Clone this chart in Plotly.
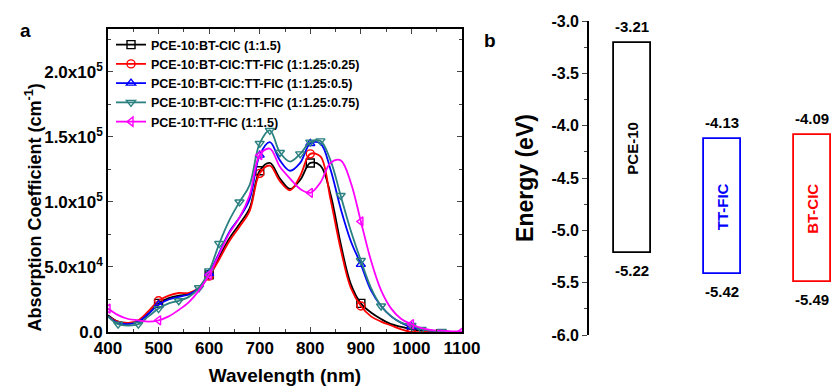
import plotly.graph_objects as go

# ---------------- data ----------------
wavelength = [400, 420, 440, 460, 480, 500, 520, 540, 560, 580, 600, 620, 640, 660, 680, 700,
              720, 740, 760, 780, 800, 820, 840, 860, 880, 900, 920, 940, 960, 980, 1000,
              1020, 1040, 1060, 1080, 1100]

# absorption coefficient, units of 1e5 cm^-1
bt_cic = [0.13, 0.08, 0.07, 0.08, 0.14, 0.22, 0.26, 0.28, 0.29, 0.34, 0.44, 0.58, 0.72, 0.83, 0.95, 1.24,
          1.30, 1.18, 1.10, 1.17, 1.30, 1.28, 1.06, 0.68, 0.37, 0.22, 0.15, 0.10, 0.06, 0.04, 0.02,
          0.01, 0.005, 0.0, 0.0, 0.0]
tern_025 = [0.12, 0.08, 0.07, 0.09, 0.16, 0.24, 0.28, 0.30, 0.30, 0.34, 0.43, 0.56, 0.70, 0.81, 0.93, 1.22,
            1.28, 1.16, 1.09, 1.20, 1.37, 1.35, 1.02, 0.64, 0.34, 0.20, 0.12, 0.08, 0.05, 0.02, 0.0,
            0.0, 0.0, 0.0, 0.0, 0.0]
tern_05 = [0.12, 0.07, 0.06, 0.08, 0.14, 0.21, 0.25, 0.27, 0.29, 0.34, 0.45, 0.61, 0.77, 0.88, 1.02, 1.36,
           1.46, 1.32, 1.24, 1.30, 1.45, 1.45, 1.25, 0.95, 0.70, 0.52, 0.32, 0.20, 0.12, 0.07, 0.04,
           0.02, 0.01, 0.005, 0.0, 0.0]
tern_075 = [0.12, 0.06, 0.05, 0.06, 0.12, 0.18, 0.22, 0.24, 0.27, 0.34, 0.47, 0.68, 0.86, 1.00, 1.13, 1.45,
            1.55, 1.38, 1.31, 1.37, 1.46, 1.47, 1.32, 1.05, 0.78, 0.55, 0.34, 0.20, 0.12, 0.07, 0.05,
            0.02, 0.01, 0.005, 0.0, 0.0]
tt_fic = [0.18, 0.13, 0.10, 0.09, 0.08, 0.09, 0.12, 0.17, 0.23, 0.32, 0.44, 0.60, 0.76, 0.88, 1.05, 1.36,
          1.41, 1.27, 1.18, 1.10, 1.07, 1.15, 1.30, 1.32, 1.15, 0.85, 0.55, 0.32, 0.18, 0.10, 0.06,
          0.03, 0.015, 0.01, 0.005, 0.005]

series_names = ["PCE-10:BT-CIC (1:1.5)",
                "PCE-10:BT-CIC:TT-FIC (1:1.25:0.25)",
                "PCE-10:BT-CIC:TT-FIC (1:1.25:0.5)",
                "PCE-10:BT-CIC:TT-FIC (1:1.25:0.75)",
                "PCE-10:TT-FIC (1:1.5)"]
series_values = [bt_cic, tern_025, tern_05, tern_075, tt_fic]
series_colors = ["#000000", "#ff0000", "#0000ff", "#2b8080", "#ff00ff"]
series_symbols = ["square-open", "circle-open", "triangle-up-open", "triangle-down-open", "triangle-left-open"]
marker_idx = [[5, 10, 15, 20, 25, 30],
              [5, 10, 15, 20, 25, 30],
              [5, 10, 15, 20, 25, 30],
              [1, 3, 5, 7, 9, 10, 11, 13, 15, 16, 17, 19, 20, 21, 23, 25, 27, 30, 31, 33],
              [0, 5, 10, 15, 20, 25, 30, 35]]

y_tickvals = [0, 0.5e5, 1.0e5, 1.5e5, 2.0e5]
y_ticktext = ["0.0", "5.0x10<sup>4</sup>", "1.0x10<sup>5</sup>", "1.5x10<sup>5</sup>", "2.0x10<sup>5</sup>"]

# energy levels
materials = ["PCE-10", "TT-FIC", "BT-CIC"]
lumo = [-3.21, -4.13, -4.09]
homo = [-5.22, -5.42, -5.49]
mat_colors = ["#000000", "#0000ff", "#ff0000"]
e_tickvals = [-3.0, -3.5, -4.0, -4.5, -5.0, -5.5, -6.0]
e_ticktext = ["-3.0", "-3.5", "-4.0", "-4.5", "-5.0", "-5.5", "-6.0"]

FONT = "Liberation Sans, Arial, sans-serif"
fig = go.Figure()

for name, vals, col, sym, idx in zip(series_names, series_values, series_colors, series_symbols, marker_idx):
    y = [v * 1e5 for v in vals]
    fig.add_trace(go.Scatter(x=wavelength, y=y, mode="lines", line=dict(color=col, width=1.8, shape="spline", smoothing=1.0),
                             showlegend=False, xaxis="x", yaxis="y", hoverinfo="skip"))
    fig.add_trace(go.Scatter(x=[wavelength[i] for i in idx], y=[y[i] for i in idx], mode="markers",
                             marker=dict(symbol=sym, size=8, color=col, line=dict(width=1.4, color=col)),
                             showlegend=False, xaxis="x", yaxis="y"))
    fig.add_trace(go.Scatter(x=[None], y=[None], mode="lines+markers", name=name,
                             line=dict(color=col, width=1.8),
                             marker=dict(symbol=sym, size=8, color=col, line=dict(width=1.4, color=col)),
                             xaxis="x", yaxis="y"))

# energy level boxes
for i, (m, lu, ho, c) in enumerate(zip(materials, lumo, homo, mat_colors)):
    fig.add_trace(go.Bar(x=[i], y=[lu - ho], base=[ho], width=0.41, marker=dict(color="rgba(255,255,255,0)",
                         line=dict(color=c, width=1.8)), showlegend=False, xaxis="x2", yaxis="y2"))
    fig.add_annotation(x=i, y=(lu + ho) / 2, xref="x2", yref="y2", text=m, textangle=-90, showarrow=False,
                       font=dict(family=FONT, size=15, color=c, weight="bold"))
    fig.add_annotation(x=i, y=lu, xref="x2", yref="y2", text=f"{lu:.2f}", showarrow=False, yanchor="bottom",
                       yshift=6, font=dict(family=FONT, size=15, color="black", weight="bold"))
    fig.add_annotation(x=i, y=ho, xref="x2", yref="y2", text=f"{ho:.2f}", showarrow=False, yanchor="top",
                       yshift=-7, font=dict(family=FONT, size=15, color="black", weight="bold"))

W, H = 834, 387


def px(p):
    return p / W


def py(p):
    return 1 - p / H


fig.update_layout(
    width=W, height=H, margin=dict(l=0, r=0, t=0, b=0),
    paper_bgcolor="white", plot_bgcolor="white",
    font=dict(family=FONT, color="black", weight="bold"),
    xaxis=dict(domain=[px(108), px(462)], anchor="y", range=[400, 1100], tickvals=list(range(400, 1101, 100)),
               automargin=False,
               ticks="inside", ticklen=5, tickwidth=1.4, showline=True, linecolor="black", linewidth=1.6,
               mirror="allticks", showgrid=False, zeroline=False,
               minor=dict(dtick=50, ticks="inside", ticklen=3, tickwidth=1.2),
               tickfont=dict(size=17, family=FONT, weight="bold"),
               title=dict(text="Wavelength (nm)", font=dict(size=19, family=FONT, weight="bold"), standoff=11)),
    yaxis=dict(domain=[py(332), py(29)], anchor="x", range=[0, 2.33e5],
               tickvals=y_tickvals, ticktext=y_ticktext, automargin=False,
               ticks="inside", ticklen=5, tickwidth=1.4, showline=True, linecolor="black", linewidth=1.6,
               mirror="allticks", showgrid=False, zeroline=False,
               minor=dict(dtick=0.25e5, ticks="inside", ticklen=3, tickwidth=1.2, tick0=0),
               tickfont=dict(size=17, family=FONT, weight="bold")),
    xaxis2=dict(domain=[px(588), 1.0], anchor="y2", range=[-0.494, 2.239], visible=False, automargin=False),
    yaxis2=dict(domain=[py(335), py(21)], anchor="free", position=px(588), range=[-6.0, -3.0],
                tickvals=e_tickvals, ticktext=e_ticktext, ticks="outside", ticklen=5, tickwidth=1.4,
                automargin=False,
                showline=True, linecolor="black", linewidth=1.6, showgrid=False, zeroline=False,
                minor=dict(dtick=0.25, ticks="outside", ticklen=3, tickwidth=1.2, tick0=-6.0),
                tickfont=dict(size=16, family=FONT, weight="bold"),
                title=dict(text="Energy (eV)", font=dict(size=23, family=FONT, weight="bold"), standoff=10)),
    legend=dict(x=px(111), y=py(30), xanchor="left", yanchor="top", bgcolor="rgba(0,0,0,0)",
                font=dict(size=12.5, family=FONT, weight="bold"), tracegroupgap=0, itemwidth=30),
    bargap=0,
)
fig.add_annotation(x=px(20), y=py(208), xref="paper", yref="paper", text="Absorption Coefficient (cm<sup>-1</sup>)",
                   textangle=-90, showarrow=False, font=dict(size=18, family=FONT, weight="bold"))
fig.add_annotation(x=px(18), y=py(18), xref="paper", yref="paper", text="a", showarrow=False,
                   font=dict(size=19, family=FONT, weight="bold"))
fig.add_annotation(x=px(490), y=py(28), xref="paper", yref="paper", text="b", showarrow=False,
                   font=dict(size=19, family=FONT, weight="bold"))

fig.write_html("out.html", config={"displayModeBar": False},
               post_script="document.body.style.margin='0';document.body.style.overflow='hidden';")
